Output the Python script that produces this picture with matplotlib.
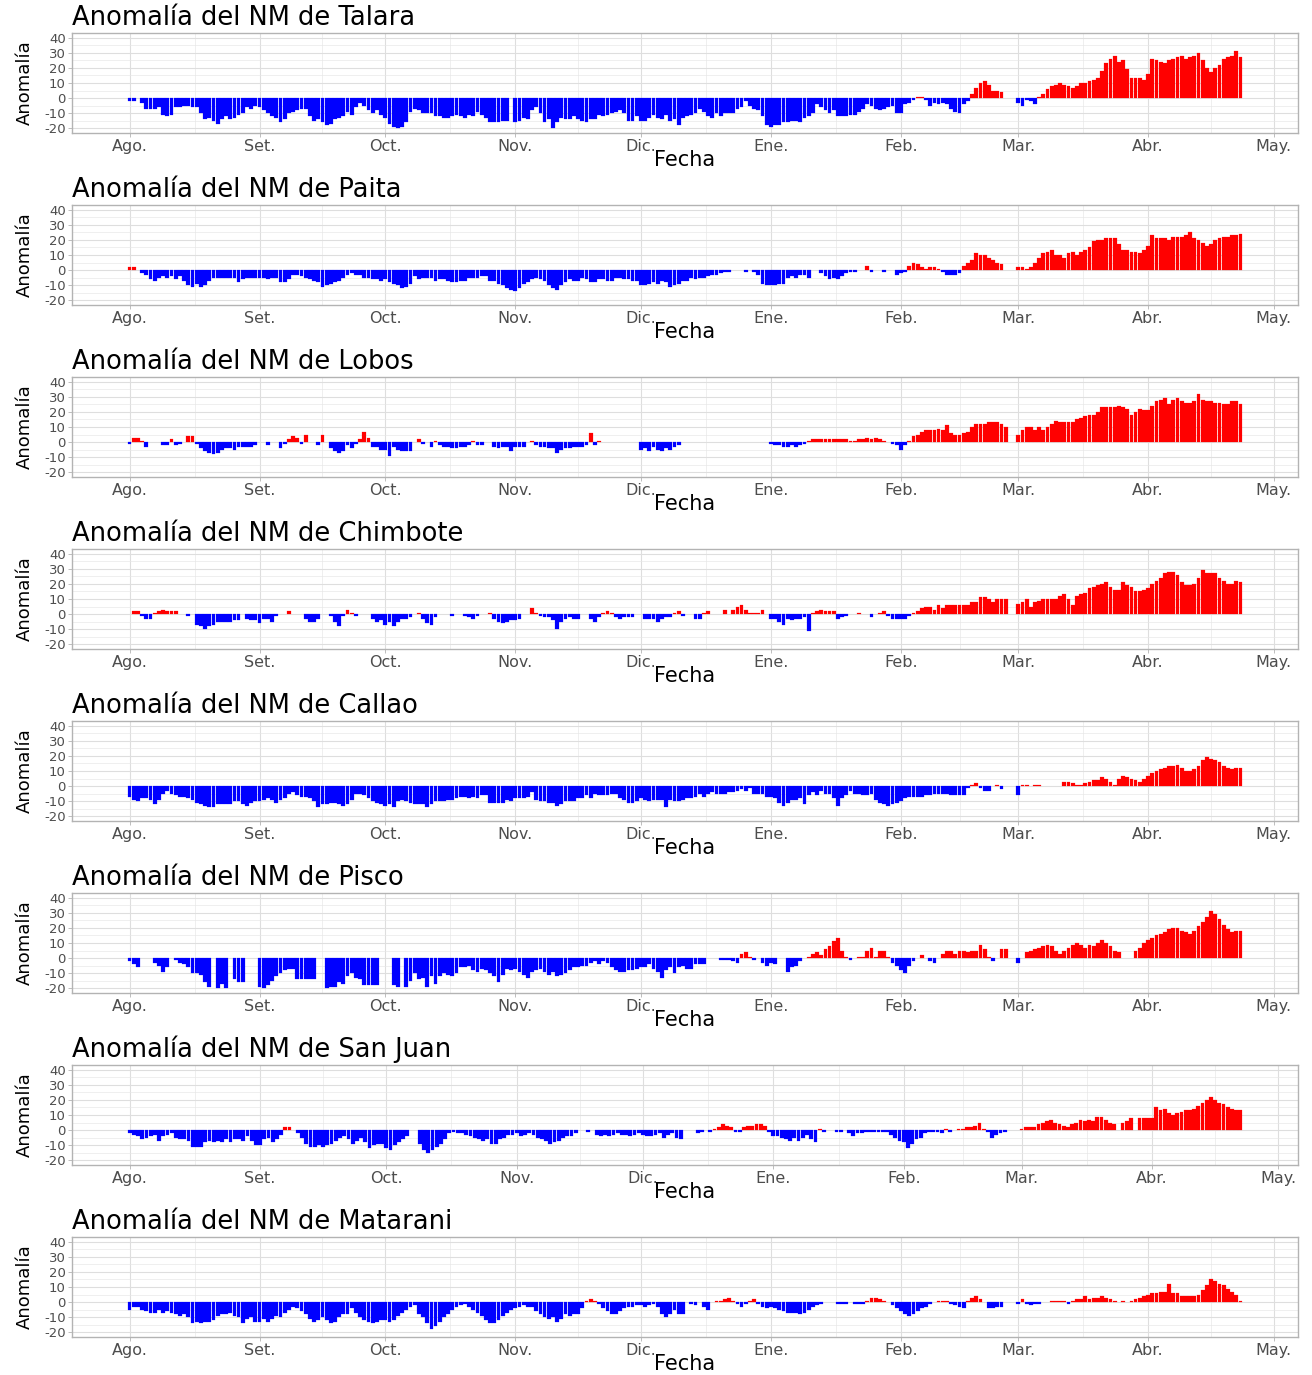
import numpy as np
import pandas as pd
import matplotlib
matplotlib.use("Agg")
import matplotlib.pyplot as plt
import matplotlib.dates as mdates
from numpy import nan

plt.rcParams["font.family"] = ["DejaVu Sans"]
plt.rcParams["axes.unicode_minus"] = False

# estaciones de norte a sur
estaciones = ["Talara", "Paita", "Lobos", "Chimbote", "Callao", "Pisco", "San Juan", "Matarani"]
meses = ["Ago.", "Set.", "Oct.", "Nov.", "Dic.", "Ene.", "Feb.", "Mar.", "Abr.", "May."]
inicio = "2022-08-01"

# anomalia diaria del nivel del mar (cm), ago-2022 a abr-2023
talara = [
    -2, -2, nan, -3, -7, -7, -7, -6, -11, -12, -11, -6, -6, -5, -5, -6, -6, -10, -14, -13, -15, -17, -14, -12, -14, -13, -11, -10, -6, -7, -5,
    -6, -8, -10, -12, -13, -16, -14, -10, -9, -8, -7, -7, -12, -15, -14, -16, -18, -17, -14, -13, -12, -9, -11, -6, -3, -5, -8, -10, -8, -11,
    -13, -17, -19, -20, -19, -16, -9, -7, -8, -10, -10, -10, -12, -12, -13, -13, -12, -11, -12, -13, -11, -12, -9, -11, -13, -16, -16, -16, -15, -15, nan,
    -16, -15, -13, -14, -8, -6, -10, -16, -14, -20, -16, -13, -14, -14, -12, -14, -15, -16, -14, -14, -11, -12, -11, -10, -9, -8, -10, -15, -15, -12,
    -15, -15, -13, -11, -13, -14, -11, -15, -14, -18, -13, -12, -11, -10, -7, -9, -12, -13, -10, -12, -10, -10, -10, -7, -6, -2, -5, -7, -8, -12, -18,
    -19, -18, -18, -16, -16, -15, -15, -16, -13, -12, -10, -4, -6, -8, -10, -8, -12, -12, -12, -11, -11, -9, -7, -4, -5, -7, -8, -7, -6, -5, -10,
    -10, -4, -3, -1, 1, 1, -1, -5, -3, -4, -3, -4, -7, -9, -10, -4, -2, 3, 7, 10, 11, 9, 5, 5, 4, nan, nan, nan,
    -3, -5, -1, -2, -4, 1, 3, 6, 8, 9, 10, 9, 8, 7, 8, 10, 10, 11, 12, 13, 18, 23, 26, 28, 24, 25, 19, 13, 13, 13, 12,
    16, 26, 25, 24, 23, 25, 26, 27, 28, 26, 27, 28, 30, 25, 20, 17, 20, 22, 26, 27, 28, 31, 27,
]
paita = [
    2, 2, nan, -2, -3, -6, -7, -5, -4, -5, -4, -6, -4, -7, -10, -11, -9, -11, -10, -7, -5, -5, -5, -5, -5, -5, -8, -6, -5, -5, -5,
    -5, -5, -6, -5, -5, -8, -8, -6, -3, -3, -4, -5, -6, -7, -8, -11, -10, -9, -8, -7, -5, -3, -2, -3, -3, -5, -5, -6, -6, -7,
    -6, -8, -9, -10, -12, -11, -9, -4, -6, -5, -5, -5, -7, -6, -6, -7, -8, -8, -7, -7, -5, -5, -5, -4, -4, -7, -7, -9, -10, -12, -13,
    -14, -12, -9, -8, -6, -5, -6, -7, -10, -12, -13, -10, -8, -6, -7, -7, -5, -6, -8, -8, -6, -6, -7, -7, -5, -5, -6, -6, -7, -7,
    -10, -10, -9, -8, -9, -7, -8, -11, -10, -9, -7, -7, -5, -6, -5, -5, -4, -3, -3, -2, -1, -1, nan, nan, nan, -1, nan, -1, -3, -9, -10,
    -10, -10, -9, -9, -5, -4, -5, -3, -3, -5, nan, nan, -2, -4, -6, -5, -6, -4, -2, -1, -1, nan, nan, 3, -1, nan, nan, -1, nan, nan, -3,
    -2, -1, 3, 5, 4, 2, 1, 2, 2, 1, -1, -3, -3, -3, -2, 3, 5, 7, 11, 10, 10, 8, 7, 5, 4, nan, nan, nan,
    2, 2, 1, 2, 5, 8, 11, 12, 13, 10, 10, 8, 11, 12, 10, 12, 13, 15, 19, 20, 20, 21, 21, 21, 17, 13, 13, 12, 12, 11, 13,
    16, 23, 21, 21, 21, 20, 22, 22, 22, 23, 25, 21, 20, 18, 16, 17, 20, 21, 22, 22, 23, 23, 24,
]
lobos = [
    -1, 3, 3, 1, -3, nan, nan, nan, -2, -2, 2, -2, -1, nan, 4, 4, -1, -4, -6, -7, -8, -7, -5, -4, -4, -5, -3, -3, -3, -3, -2,
    nan, nan, -2, nan, nan, -4, -1, 2, 4, 3, -1, 5, nan, nan, -2, 5, nan, -4, -6, -7, -6, -2, -4, -1, 2, 7, 3, -3, -3, -5,
    -5, -9, -3, -5, -6, -6, -6, nan, 2, -1, nan, -3, 1, -2, -3, -3, -4, -4, -3, -3, -2, 1, -2, -2, nan, nan, -3, -4, -3, -3, -6,
    -3, -3, -3, nan, 1, -2, -3, -3, -4, -4, -7, -5, -4, -4, -3, -3, -3, -2, 6, -2, 1, nan, nan, nan, nan, nan, nan, nan, nan, nan,
    -5, -4, -6, -3, -5, -6, -4, -5, -3, -2, nan, nan, nan, nan, nan, nan, nan, nan, nan, nan, nan, nan, nan, nan, nan, nan, nan, nan, nan, nan, nan,
    -1, -2, -2, -3, -3, -2, -3, -2, -1, 1, 2, 2, 2, 2, 2, 2, 2, 2, 2, 1, 1, 2, 2, 3, 2, 3, 2, 1, nan, -1, -2,
    -5, -2, 1, 4, 5, 7, 8, 8, 8, 9, 8, 11, 6, 5, 5, 6, 7, 10, 12, 12, 12, 13, 13, 13, 12, 10, nan, nan,
    5, 8, 10, 10, 8, 10, 8, 10, 12, 14, 13, 13, 13, 13, 15, 16, 17, 18, 18, 20, 23, 23, 23, 23, 24, 23, 22, 18, 20, 22, 21,
    21, 24, 27, 28, 29, 25, 28, 29, 27, 26, 26, 27, 32, 28, 27, 27, 26, 26, 25, 25, 27, 27, 25,
]
chimbote = [
    nan, 2, 2, -1, -3, -3, 1, 2, 3, 2, 2, 2, nan, nan, -1, nan, -7, -8, -10, -8, -7, -5, -5, -5, -5, -4, -4, nan, -3, -4, -4,
    -6, -3, -3, -5, -1, nan, nan, 2, nan, nan, nan, -3, -5, -5, -3, nan, nan, -1, -5, -8, -1, 3, 1, -1, nan, nan, nan, -3, -5, -4,
    -7, -5, -8, -5, -3, -3, -2, nan, 1, -3, -6, -7, -2, nan, nan, nan, -1, nan, nan, -1, -2, -3, -1, nan, nan, 1, -3, -5, -6, -5, -4,
    -4, -3, nan, nan, 4, 1, -1, -2, -2, -4, -10, -5, -3, -2, -3, -3, nan, nan, -3, -5, -2, 1, 2, 1, -2, -3, -2, -2, -2, nan,
    nan, -3, -3, -3, -5, -3, -2, -2, 1, 2, -1, nan, nan, -3, -3, 1, 2, nan, nan, nan, 3, nan, 3, 5, 6, 3, 1, 1, 1, 3, nan,
    -3, -3, -5, -7, -3, -4, -3, -3, -2, -11, 1, 2, 3, 2, 2, 2, -3, -2, -1, nan, nan, 1, nan, nan, -2, nan, 1, 2, -1, -3, -3,
    -3, -3, -1, 1, 2, 4, 5, 5, 3, 6, 4, 6, 6, 6, 6, 6, 6, 8, 8, 11, 11, 10, 8, 10, 10, 10, nan, nan,
    7, 8, 10, 5, 8, 9, 10, 10, 10, 10, 12, 13, 10, 6, 12, 13, 14, 17, 18, 19, 20, 21, 18, 16, 16, 21, 19, 18, 15, 15, 16,
    17, 20, 22, 24, 27, 28, 28, 26, 21, 19, 19, 20, 24, 29, 27, 27, 27, 24, 22, 20, 20, 22, 21,
]
callao = [
    -7, -9, -10, -8, -8, -9, -12, -9, -5, -3, -5, -6, -7, -7, -8, -9, -11, -12, -13, -14, -14, -12, -12, -12, -12, -10, -10, -12, -13, -11, -10,
    -10, -9, -8, -9, -11, -9, -8, -5, -4, -6, -7, -7, -8, -10, -14, -12, -12, -11, -11, -12, -13, -12, -9, -5, -5, -6, -8, -10, -11, -12,
    -13, -12, -14, -10, -9, -10, -11, -12, -12, -12, -14, -12, -10, -10, -10, -9, -9, -8, -7, -7, -8, -7, -8, -6, -6, -11, -11, -11, -11, -9, -10,
    -8, -8, -8, -7, -4, -9, -10, -10, -11, -11, -13, -12, -10, -10, -10, -8, -8, -6, -8, -5, -6, -6, -6, -5, -5, -8, -9, -11, -11, -10,
    -8, -9, -10, -9, -9, -9, -14, -9, -10, -10, -9, -8, -8, -7, -5, -7, -5, -4, -5, -5, -5, -4, -4, -3, -2, -3, -1, -5, -5, -5, -7,
    -7, -8, -11, -13, -11, -9, -9, -8, -12, -6, -4, -6, -3, -5, -5, -8, -13, -8, -6, -3, -5, -5, -6, -6, -5, -9, -11, -12, -13, -12, -11,
    -10, -8, -7, -7, -7, -7, -6, -6, -5, -5, -5, -5, -6, -6, -6, -6, -1, 1, 2, -1, -3, -3, nan, 1, -2, nan, nan, nan,
    -6, 1, 1, nan, 1, 1, nan, nan, nan, nan, nan, 3, 3, 2, 1, 1, 2, 3, 4, 4, 6, 5, 3, 1, 5, 7, 6, 5, 4, 3, 5,
    7, 9, 10, 11, 12, 13, 13, 14, 12, 10, 10, 11, 13, 17, 19, 18, 17, 16, 13, 12, 11, 12, 12,
]
pisco = [
    -2, -4, -6, nan, nan, nan, -3, -5, -9, -6, nan, -1, -3, -4, -6, -10, -10, -11, -16, -19, nan, -20, -17, -20, nan, -14, -16, -16, nan, nan, nan,
    -19, -20, -18, -15, -12, -10, -8, -7, -7, -14, -14, -14, -14, -14, nan, nan, -20, -19, -19, -16, -17, -12, -10, -13, -14, -18, -18, -18, -18, nan,
    nan, nan, -18, -19, nan, -19, -15, -10, -14, -13, -19, -12, -17, -12, -10, -11, -12, -10, -6, -6, -5, -8, -9, -7, -8, -10, -12, -16, -11, -7, -8,
    -7, -9, -11, -13, -9, -8, -7, -9, -11, -9, -12, -11, -10, -8, -6, -6, -5, -5, -3, -2, -4, -2, -3, -6, -8, -9, -9, -8, -8, -7,
    -6, -6, -4, -7, -9, -13, -8, -6, -10, -6, -5, -7, -7, -4, -4, -4, nan, nan, nan, -1, -1, -1, -2, -3, 3, 4, 1, -1, nan, -3, -5,
    -3, -4, nan, nan, -9, -6, -5, -2, nan, 1, 3, 4, 2, 6, 8, 11, 13, 5, 1, -1, nan, 1, 1, 5, 7, 1, 5, 5, 1, -3, -5,
    -8, -10, -5, -2, nan, 2, nan, -2, -3, nan, 3, 5, 5, 3, 5, 5, 4, 5, 5, 9, 6, 1, -2, nan, 6, 6, nan, nan,
    -3, nan, 4, 5, 6, 7, 8, 9, 8, 5, 3, 5, 7, 9, 10, 9, 7, 9, 8, 10, 12, 10, 8, 5, 4, nan, nan, nan, 5, 7, 10,
    12, 13, 15, 16, 17, 19, 20, 20, 18, 17, 16, 18, 21, 24, 27, 31, 29, 26, 22, 19, 17, 18, 18,
]
san_juan = [
    -2, -3, -4, -6, -5, -4, -3, -7, -4, -3, -2, -5, -6, -6, -7, -11, -11, -11, -8, -7, -8, -7, -8, -6, -8, -6, -6, -7, -4, -7, -10,
    -10, -6, -5, -8, -6, -3, 2, 2, nan, -2, -5, -9, -11, -11, -10, -11, -10, -9, -7, -5, -4, -6, -9, -7, -5, -8, -12, -10, -9, -9,
    -12, -13, -10, -8, -6, -4, nan, nan, -9, -13, -15, -13, -11, -9, -6, -2, -1, -2, -2, -3, -4, -5, -6, -7, -6, -9, -9, -6, -5, -3, -3,
    -2, -4, -3, -2, -3, -5, -6, -7, -9, -8, -7, -5, -4, -4, -2, nan, nan, -1, nan, -3, -4, -3, -4, -3, -2, -3, -3, -4, -3, -2,
    -3, -4, -4, -3, -2, -5, -3, -2, -5, -6, nan, nan, nan, -2, -1, nan, -1, 1, 2, 4, 3, 2, -1, -1, 2, 3, 3, 4, 4, 3, -1,
    -4, -4, -5, -6, -7, -5, -7, -5, -3, -6, -8, 1, -1, nan, nan, -1, -1, nan, -2, -4, -2, -2, -1, -1, -1, -1, -1, -1, -3, -5, -7,
    -8, -12, -9, -6, -5, -2, -1, -1, -1, -2, 1, -1, nan, 1, 1, 2, 2, 3, 5, 1, -1, -5, -3, -2, -1, nan, nan, nan,
    1, 2, 2, 2, 4, 5, 6, 7, 5, 4, 3, 2, 4, 5, 7, 6, 7, 6, 9, 9, 7, 5, 4, nan, 5, 6, 8, nan, 8, 8, 8,
    8, 15, 13, 14, 11, 10, 11, 12, 13, 13, 14, 16, 18, 20, 22, 20, 18, 17, 15, 14, 13, 13,
]
matarani = [
    -5, -3, -3, -5, -6, -7, -7, -5, -7, -6, -7, -8, -9, -8, -10, -14, -13, -14, -13, -13, -12, -9, -8, -8, -7, -9, -10, -14, -11, -10, -13,
    -13, -11, -13, -11, -9, -10, -7, -5, -3, -4, -6, -8, -11, -13, -12, -10, -12, -14, -13, -10, -8, -8, -4, -7, -10, -12, -13, -14, -13, -12,
    -12, -13, -12, -9, -7, -5, -3, -2, -8, -10, -14, -18, -16, -13, -10, -8, -5, -3, -2, -1, -3, -5, -7, -9, -12, -14, -14, -12, -9, -7, -5,
    -4, -3, -2, -3, -3, -6, -8, -10, -11, -10, -13, -11, -8, -9, -8, -8, -4, 1, 2, 1, -1, -4, -6, -8, -8, -6, -4, -3, -3, -2,
    -2, -3, -2, -1, -3, -8, -10, -8, -5, -8, -8, nan, -1, -2, nan, -3, -5, nan, 1, 1, 2, 3, 1, -1, -3, -1, 1, 2, -1, -3, -4,
    -3, -4, -5, -6, -7, -7, -7, -8, -7, -5, -3, -2, -1, nan, nan, nan, -1, -1, -1, nan, -1, -1, -1, 1, 3, 3, 2, 1, nan, -2, -4,
    -6, -8, -9, -8, -6, -4, -3, -1, nan, 1, 1, 1, -1, -2, -3, -4, 1, 3, 4, 2, nan, -4, -4, -3, -3, nan, nan, nan,
    -1, 2, -1, -2, -1, -1, nan, nan, 1, 1, 1, 1, -1, 1, 2, 2, 4, 2, 3, 3, 4, 3, 2, 1, nan, 1, nan, 1, 2, 3, 4,
    5, 6, 6, 7, 7, 12, 6, 6, 4, 4, 4, 4, 5, 8, 11, 15, 14, 12, 11, 9, 7, 5, 1,
]

series = [talara, paita, lobos, chimbote, callao, pisco, san_juan, matarani]

W, H = 1312, 1375
fig = plt.figure(figsize=(W / 100, H / 100), dpi=100)

# cortes mensuales (mayores) y a mitad de mes (menores), como en ggplot
x_mes = mdates.date2num(pd.date_range("2022-08-01", "2023-05-01", freq="MS"))
x_menor = (x_mes[:-1] + x_mes[1:]) / 2

for i, (nombre, valores) in enumerate(zip(estaciones, series)):
    arriba = 33 + 172 * i
    ax = fig.add_axes([72 / W, 1 - (arriba + 100) / H, 1226 / W, 100 / H])

    y = np.array(valores, dtype=float)
    x = mdates.date2num(pd.date_range(inicio, periods=len(y), freq="D"))
    ok = ~np.isnan(y)
    colores = np.where(y[ok] > 0, "#FF0000", "#0000FF")
    ax.bar(x[ok], y[ok], width=0.9, color=colores, edgecolor=colores,
           linewidth=0.15, zorder=3)

    rango = x[-1] - x[0] + 0.9
    ax.set_xlim(x[0] - 0.45 - 0.05 * rango, x[-1] + 0.45 + 0.05 * rango)
    ax.set_ylim(-23, 43)

    ax.set_xticks(x_mes)
    ax.set_xticklabels(meses)
    ax.set_xticks(x_menor, minor=True)
    ax.set_yticks(range(-20, 41, 10))
    ax.set_yticks(range(-15, 36, 10), minor=True)

    ax.grid(which="major", color="#DEDEDE", linewidth=0.8, zorder=0)
    ax.grid(which="minor", color="#E6E6E6", linewidth=0.45, zorder=0)
    ax.set_axisbelow(True)
    for sp in ax.spines.values():
        sp.set_color("#B3B3B3")
        sp.set_linewidth(1.0)

    ax.tick_params(which="major", length=3, width=0.6, color="#B3B3B3",
                   labelcolor="#4D4D4D", pad=1.5)
    ax.tick_params(which="minor", length=0)
    ax.tick_params(axis="x", labelsize=11.5)
    ax.tick_params(axis="y", labelsize=9.5)

    ax.set_title(f"Anomalía del NM de {nombre}", loc="left", fontsize=18.5, pad=5.5)
    ax.set_ylabel("Anomalía", fontsize=13)
    ax.yaxis.set_label_coords(-0.031, 0.5)
    ax.set_xlabel("Fecha", fontsize=15)
    ax.xaxis.set_label_coords(0.5, -0.17)

fig.savefig("out.png", dpi=100)
